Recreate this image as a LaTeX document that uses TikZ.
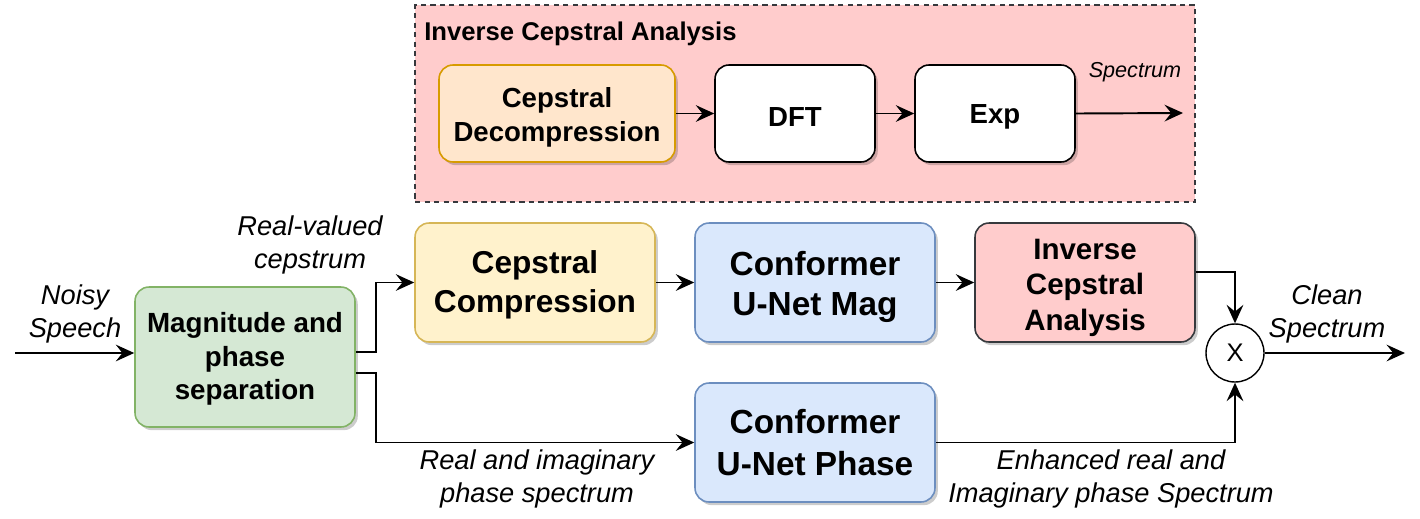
\documentclass[tikz,border=0pt]{standalone}
\usepackage{fontspec}
\setmainfont{Liberation Sans}
\usetikzlibrary{arrows.meta,shadows,calc}
\definecolor{grfill}{HTML}{D5E8D4}\definecolor{grline}{HTML}{82B366}
\definecolor{yefill}{HTML}{FFF2CC}\definecolor{yeline}{HTML}{D6B656}
\definecolor{blfill}{HTML}{DAE8FC}\definecolor{blline}{HTML}{6C8EBF}
\definecolor{rdfill}{HTML}{FFCCCC}\definecolor{rdline}{HTML}{36393D}
\definecolor{orfill}{HTML}{FFE6CC}\definecolor{orline}{HTML}{D79B00}
\newcommand{\upstrut}[1]{\rule{0pt}{#1}}
\begin{document}
\begin{tikzpicture}[x=0.02cm,y=-0.02cm,
  box/.style={draw, line width=0.9pt, rounded corners=0.28cm, align=center, inner sep=0pt,
    drop shadow={shadow xshift=1.6pt, shadow yshift=-1.8pt, opacity=0.2, fill=black}},
  arr/.style={draw, line width=1.1pt, -{Stealth[length=10.5pt,width=9.5pt,inset=3.8pt]}},
  lab/.style={align=center, font=\fontsize{15.5}{18.7}\selectfont\itshape, inner sep=0pt}]
\useasboundingbox (0,0) rectangle (1420,518);
% inverse cepstral analysis panel
\node[draw=rdline, fill=rdfill, line width=0.9pt, dash pattern=on 3pt off 2.4pt,
  minimum width=15.6cm, minimum height=3.94cm, inner sep=0pt] (panel) at (805,103.5) {};
\node[anchor=west, inner sep=0pt, font=\fontsize{14.6}{17}\selectfont\bfseries] (title) at (424,34) {Inverse Cepstral Analysis};
\node[box, fill=orfill, draw=orline, minimum width=4.72cm, minimum height=1.94cm,
  font=\fontsize{15.7}{19.3}\selectfont\bfseries] (dec) at (557,113.5) {\upstrut{15.7pt}Cepstral\\Decompression};
\node[box, fill=white, draw=black, minimum width=3.2cm, minimum height=1.94cm,
  font=\fontsize{15.7}{19.3}\selectfont\bfseries] (dft) at (795,113.5) {\upstrut{14.6pt}DFT};
\node[box, fill=white, draw=black, minimum width=3.2cm, minimum height=1.94cm,
  font=\fontsize{15.7}{19.3}\selectfont\bfseries] (exp) at (995,113.5) {\upstrut{14.6pt}Exp};
\coordinate (specend) at (1183,113);
\node[inner sep=0pt, font=\fontsize{12.3}{14}\selectfont\itshape] (speclab) at (1135,72) {Spectrum};
\draw[arr] (dec.east) -- (dft.west);
\draw[arr] (dft.east) -- (exp.west);
\draw[arr] (exp.east) -- (specend);
% main chain
\node[box, fill=grfill, draw=grline, minimum width=4.4cm, minimum height=2.8cm,
  font=\fontsize{15.8}{19}\selectfont\bfseries] (mag) at (245,357) {\upstrut{13.8pt}Magnitude and\\phase\\separation};
\node[box, fill=yefill, draw=yeline, minimum width=4.8cm, minimum height=2.38cm,
  font=\fontsize{18}{22}\selectfont\bfseries] (cc) at (535,282.5) {\upstrut{15.5pt}Cepstral\\Compression};
\node[box, fill=blfill, draw=blline, minimum width=4.8cm, minimum height=2.38cm,
  font=\fontsize{19}{23}\selectfont\bfseries] (cmag) at (815,282.5) {\upstrut{18.5pt}Conformer\\U-Net Mag};
\node[box, fill=blfill, draw=blline, minimum width=4.8cm, minimum height=2.38cm,
  font=\fontsize{19}{24}\selectfont\bfseries] (cph) at (815,442.5) {Conformer\\U-Net Phase};
\node[box, fill=rdfill, draw=rdline, minimum width=4.4cm, minimum height=2.38cm,
  font=\fontsize{16.8}{20.4}\selectfont\bfseries] (ica) at (1085,282.5) {\upstrut{17.7pt}Inverse\\Cepstral\\Analysis};
\node[draw, circle, line width=0.8pt, fill=white, minimum size=1.16cm, inner sep=0pt,
  font=\fontsize{14.5}{16}\selectfont] (mul) at (1235,353) {X};
\coordinate (in) at (15,353);
\coordinate (out) at (1405,353);
% labels
\node[lab] (noisy) at (75,314) {Noisy\\Speech};
\node[lab] (rv) at (310,245) {Real-valued\\cepstrum};
\node[lab] (ri) at (537,479) {Real and imaginary\\phase spectrum};
\node[lab] (enh) at (1111,479) {Enhanced real and\\Imaginary phase Spectrum};
\node[lab] (clean) at (1327,314) {Clean\\Spectrum};
% connectors
\draw[arr] (in) -- (mag.west |- in);
\draw[arr] ([yshift=0.1cm]mag.east) -- ++(20,0) |- (cc.west);
\draw[arr] ([yshift=-0.32cm]mag.east) -- ++(20,0) |- (cph.west);
\draw[arr] (cc.east) -- (cmag.west);
\draw[arr] (cmag.east) -- (ica.west);
\draw[arr] ([yshift=0.21cm]ica.east) -| (mul.north);
\draw[arr] (cph.east) -| (mul.south);
\draw[arr] (mul.east) -- (out);
\end{tikzpicture}
\end{document}
